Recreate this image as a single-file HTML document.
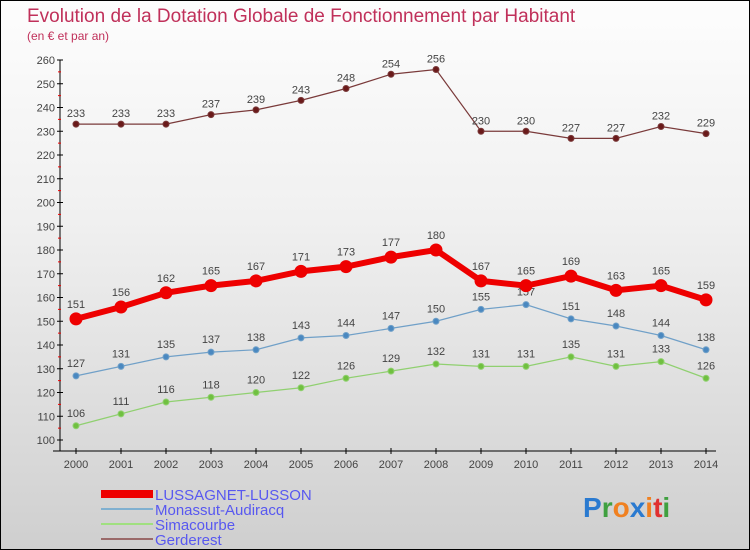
<!DOCTYPE html>
<html><head><meta charset="utf-8"><style>
body{margin:0}
#c{width:748px;height:548px;border:1px solid #000;background:linear-gradient(#fdfdfd,#f0f0f0 40%,#cfcfcf);position:relative;font-family:"Liberation Sans",sans-serif;overflow:hidden}
</style></head><body>
<div id="c">
<svg width="748" height="548" id="s"></svg>
</div>
<script>
const years=[2000,2001,2002,2003,2004,2005,2006,2007,2008,2009,2010,2011,2012,2013,2014];
const lussagnet=[151,156,162,165,167,171,173,177,180,167,165,169,163,165,159];
const monassut=[127,131,135,137,138,143,144,147,150,155,157,151,148,144,138];
const simacourbe=[106,111,116,118,120,122,126,129,132,131,131,135,131,133,126];
const gerderest=[233,233,233,237,239,243,248,254,256,230,230,227,227,232,229];
const yTicks=[100,110,120,130,140,150,160,170,180,190,200,210,220,230,240,250,260];
const NS="http://www.w3.org/2000/svg",s=document.getElementById('s');
const X=i=>75+i*45, Y=v=>439-(v-100)*2.375;
function el(t,a,txt){const e=document.createElementNS(NS,t);for(const k in a)e.setAttribute(k,a[k]);if(txt!==undefined)e.textContent=txt;s.appendChild(e);return e;}
let e;
e=el('text',{x:26,y:21,'font-size':19,fill:'#c0305a'},'Evolution de la Dotation Globale de Fonctionnement par Habitant');


e=el('text',{x:26,y:39,'font-size':12,fill:'#c0305a'},'(en € et par an)');


e=el('line',{x1:59,y1:59,x2:59,y2:450,stroke:'#000'});


e=el('line',{x1:52,y1:450,x2:715,y2:450,stroke:'#000'});


yTicks.forEach(v=>{
 el('line',{x1:56,y1:Y(v),x2:62,y2:Y(v),stroke:'#000'});
 if(v<260){el('line',{x1:57,y1:Y(v+5),x2:60,y2:Y(v+5),stroke:'#e00'});}
 e=el('text',{x:54,y:Y(v)+4,'font-size':11,fill:'#444','text-anchor':'end'},v);
 
 
});
years.forEach((y,i)=>{
 el('line',{x1:X(i),y1:447,x2:X(i),y2:453,stroke:'#000'});
 e=el('text',{x:X(i),y:467,'font-size':11,fill:'#444','text-anchor':'middle'},y);
 
 
});
function series(d,col,dot,w,r,name,lblDy){
 const p=d.map((v,i)=>X(i)+','+Y(v)).join(' ');
 e=el('polyline',{points:p,fill:'none',stroke:col,'stroke-width':w});
 
 
 d.forEach((v,i)=>{
  e=el('circle',{cx:X(i),cy:Y(v),r:r,fill:dot,stroke:col,'stroke-width':1});
  
  
  e=el('text',{x:X(i),y:Y(v)-lblDy,'font-size':11,fill:'#444','text-anchor':'middle'},v);
  
  
 });
}
series(gerderest,'#7a3a3a','#6a1a1a',1.2,3,'gerderest',7);
series(simacourbe,'#90d070','#70c040',1.2,3,'simacourbe',9);
series(monassut,'#70a0c8','#4a88c0',1.2,3,'monassut',9);
series(lussagnet,'#ee0000','#ee0000',6,6,'lussagnet',11);
const leg=[['LUSSAGNET-LUSSON','#ee0000',8],['Monassut-Audiracq','#80b0d0',2],['Simacourbe','#a0e080',2],['Gerderest','#9a6a6a',2]];
leg.forEach((l,i)=>{
 const y=493+i*15;
 e=el('line',{x1:100,y1:y,x2:152,y2:y,stroke:l[1],'stroke-width':l[2]});
 
 
 e=el('text',{x:154,y:y+6,'font-size':15,fill:'#5858f0'},l[0]);
 
 
});
e=el('text',{x:582,y:516,'font-size':28,'font-weight':'bold',fill:'#2a7ad0'});


[['P','#2a7ad0'],['r','#40a040'],['o','#f08020'],['x','#2a7ad0'],['i','#f08020'],['t','#e03030'],['i','#40a040']].forEach(c=>{const t=document.createElementNS(NS,'tspan');t.setAttribute('fill',c[1]);t.textContent=c[0];e.appendChild(t);});
</script>
</body></html>
